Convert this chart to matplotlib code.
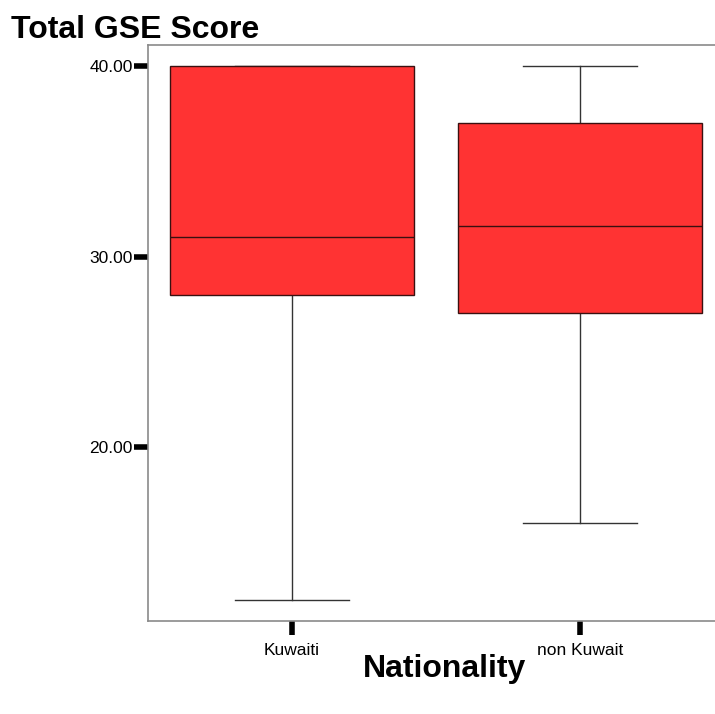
import matplotlib
matplotlib.use("Agg")
import matplotlib.pyplot as plt

plt.rcParams['font.family'] = ['Liberation Sans', 'DejaVu Sans']

# five-number summaries per group
groups = ['Kuwaiti', 'non Kuwait']
whislo = [12.0, 16.0]
q1 = [28.0, 27.05]
med = [31.05, 31.6]
q3 = [40.0, 37.0]
whishi = [40.0, 40.0]
yticks = [20, 30, 40]

stats = []
for i, name in enumerate(groups):
    stats.append({'label': name, 'whislo': whislo[i], 'q1': q1[i], 'med': med[i],
                  'q3': q3[i], 'whishi': whishi[i], 'fliers': []})

fig = plt.figure(figsize=(7.15, 7.14), dpi=100)
# right edge runs just past the figure so the right spine is cut off
ax = fig.add_axes([0.207, 0.130, 0.8016, 0.807])

ax.bxp(stats, positions=[0, 1], widths=0.845, patch_artist=True, showfliers=False,
       boxprops=dict(facecolor='#ff3333', edgecolor='#3a1010', linewidth=1.0, zorder=3),
       medianprops=dict(color='#3a1010', linewidth=1.0, zorder=4),
       whiskerprops=dict(color='#333333', linewidth=1.0, zorder=2),
       capprops=dict(color='#333333', linewidth=1.0, zorder=2),
       capwidths=0.395)

ax.set_xlim(-0.5, 1.49)
ax.set_ylim(10.87, 41.1)
ax.set_yticks(yticks)
ax.set_yticklabels(['%.2f' % v for v in yticks])
ax.set_xticks([0, 1])
ax.set_xticklabels(groups)
ax.tick_params(axis='both', direction='out', length=10, width=4, color='black',
               labelsize=12.5)
ax.tick_params(axis='y', pad=1)
ax.tick_params(axis='x', pad=6)
for s in ax.spines.values():
    s.set_color('#8a8a8a')
    s.set_linewidth(1.2)

fig.text(0.016, 0.958, 'Total GSE Score', fontsize=23, fontweight='bold',
         ha='left', va='center')
fig.text(0.621, 0.063, 'Nationality', fontsize=23, fontweight='bold',
         ha='center', va='center')

fig.savefig('out.png', dpi=100)
